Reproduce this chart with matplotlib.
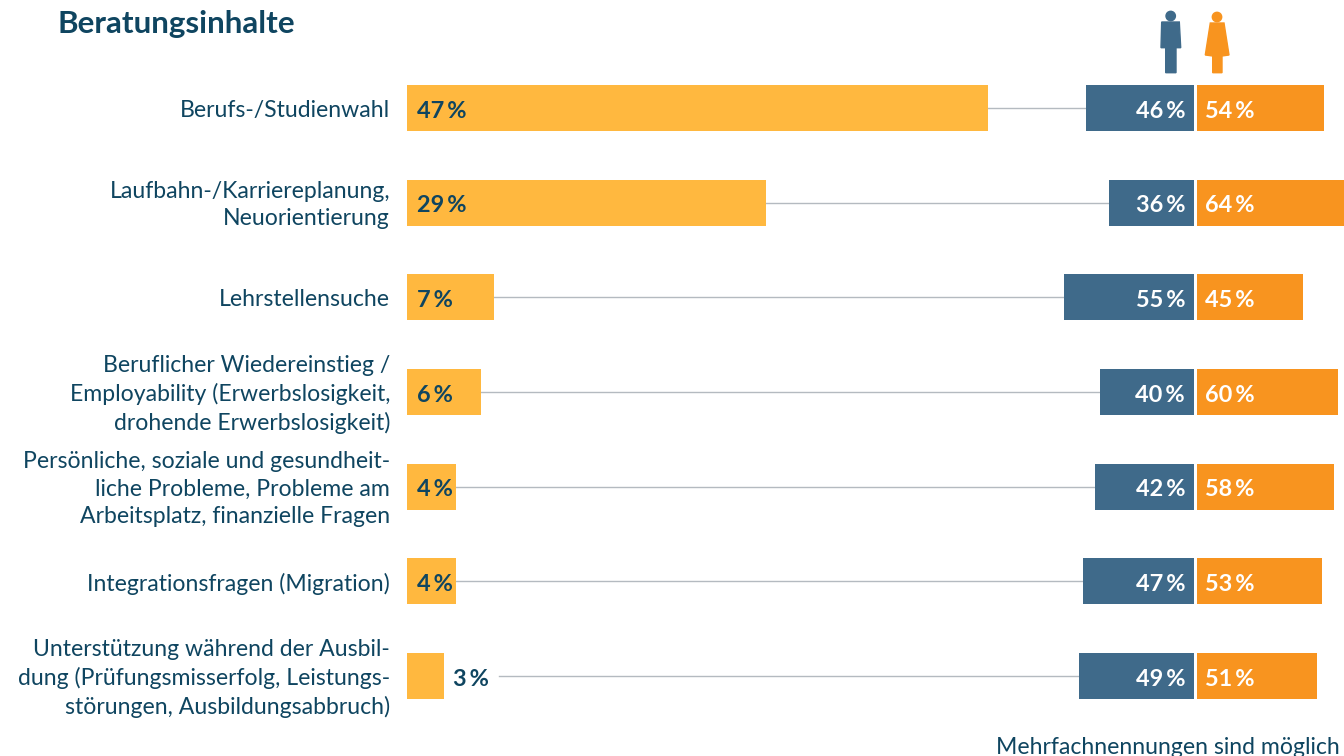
import matplotlib
matplotlib.use('Agg')
import matplotlib.pyplot as plt
from matplotlib.patches import Circle, Polygon

plt.rcParams['font.family'] = ['Lato', 'DejaVu Sans']

labels = [
    'Berufs-/Studienwahl',
    'Laufbahn-/Karriereplanung,\nNeuorientierung',
    'Lehrstellensuche',
    'Beruflicher Wiedereinstieg /\nEmployability (Erwerbslosigkeit,\ndrohende Erwerbslosigkeit)',
    'Persönliche, soziale und gesundheit-\nliche Probleme, Probleme am\nArbeitsplatz, finanzielle Fragen',
    'Integrationsfragen (Migration)',
    'Unterstützung während der Ausbil-\ndung (Prüfungsmisserfolg, Leistungs-\nstörungen, Ausbildungsabbruch)',
]
total = [47, 29, 7, 6, 4, 4, 3]
men = [46, 36, 55, 40, 42, 47, 49]
women = [54, 64, 45, 60, 58, 53, 51]

dark = '#0f4560'
yellow = '#ffb83f'
blue = '#3f6a8a'
orange = '#f8941f'
gray = '#b4bac0'

# alles in Pixeln der Vorlage
x0 = 407
scale_l = 12.37
x_mid = 1195.5
scale_r = 2.355
y0 = 108
dy = 94.67
bar_h = 46
fs = 16.6
fs_val = 16.9

fig = plt.figure(figsize=(13.44, 7.56), dpi=100)
ax = fig.add_axes([0, 0, 1, 1])
ax.set_xlim(0, 1344)
ax.set_ylim(756, 0)
ax.axis('off')

for i, lab in enumerate(labels):
    y = y0 + i * dy
    w = total[i] * scale_l
    xm = x_mid - 1.5 - men[i] * scale_r
    # Verbindungslinie
    line_start = x0 + w if total[i] > 3 else 499
    ax.plot([line_start, xm], [y, y], color=gray, lw=1, zorder=1)
    ax.barh(y, w, left=x0, height=bar_h, color=yellow, zorder=2)
    ax.barh(y, men[i] * scale_r, left=xm, height=bar_h, color=blue, zorder=2)
    ax.barh(y, women[i] * scale_r, left=x_mid + 1.5, height=bar_h, color=orange, zorder=2)

    ax.text(390, y + 2.5, lab, ha='right', va='center', color=dark, fontsize=fs,
            linespacing=1.38)
    tx = x0 + 10 if total[i] > 3 else 453
    ax.text(tx, y + 3, f'{total[i]}\u2009%', ha='left', va='center', color=dark,
            fontsize=fs_val, fontweight='bold')
    ax.text(1185, y + 3, f'{men[i]}\u2009%', ha='right', va='center', color='white',
            fontsize=fs_val, fontweight='bold')
    ax.text(1205, y + 3, f'{women[i]}\u2009%', ha='left', va='center', color='white',
            fontsize=fs_val, fontweight='bold')

ax.text(57, 24, 'Beratungsinhalte', ha='left', va='center', color=dark,
        fontsize=22.6, fontweight='bold')
ax.text(1340, 747, 'Mehrfachnennungen sind möglich', ha='right', va='center',
        color=dark, fontsize=fs)

# Figuren Mann / Frau
ax.add_patch(Circle((1170.7, 16), 4.7, color=blue))
ax.add_patch(Polygon([(1161.7, 22), (1179.3, 22), (1180.7, 47.7), (1176, 47.7), (1176, 72.7),
                      (1165.7, 72.7), (1165.7, 47.7), (1161, 47.7)], color=blue))
ax.add_patch(Circle((1217, 17), 4.7, color=orange))
ax.add_patch(Polygon([(1210.3, 23), (1224, 23), (1229, 55), (1222, 56), (1222, 72.7),
                      (1212.7, 72.7), (1212.7, 56), (1205.3, 55)], color=orange))

fig.savefig('out.png', dpi=100)
